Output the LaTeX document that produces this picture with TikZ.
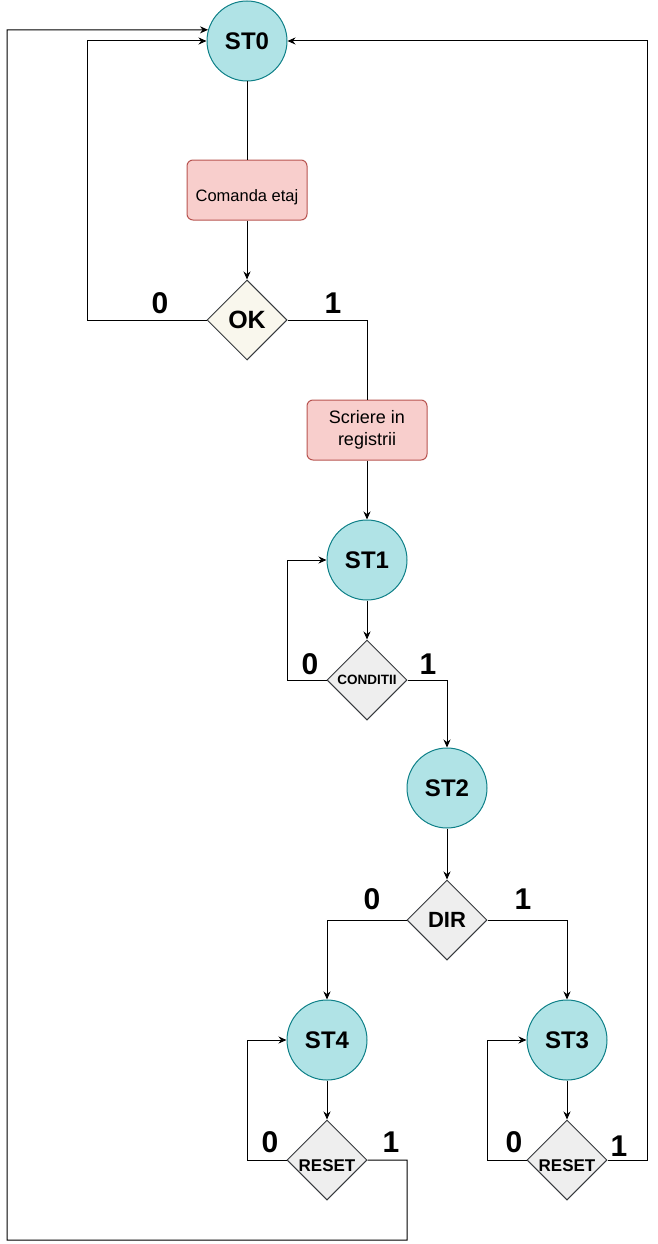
\documentclass[tikz,border=0pt]{standalone}
\usepackage{fontspec}
\setmainfont{Liberation Sans}
\usetikzlibrary{arrows.meta,shapes.geometric}
\definecolor{tealFill}{HTML}{B0E3E6}
\definecolor{tealLine}{HTML}{0E8088}
\definecolor{redFill}{HTML}{F8CECC}
\definecolor{redLine}{HTML}{B85450}
\definecolor{okFill}{HTML}{F9F7ED}
\definecolor{grayFill}{HTML}{EEEEEE}
\definecolor{darkLine}{HTML}{36393D}
\begin{document}
\begin{tikzpicture}[x=1pt,y=-1pt,line width=1pt,>={Stealth[length=8pt,width=7pt]}]
\tikzstyle{st}=[circle,draw=tealLine,fill=tealFill,minimum size=80pt,inner sep=0pt,font=\fontsize{24}{28}\selectfont\bfseries]
\tikzstyle{action}=[rectangle,rounded corners=6pt,draw=redLine,fill=redFill,minimum width=120pt,minimum height=60pt,inner sep=0pt,align=center]
\tikzstyle{decision}=[diamond,draw=darkLine,fill=okFill,minimum width=80pt,minimum height=80pt,inner sep=0pt,font=\bfseries]
\tikzstyle{grayDecision}=[decision,fill=grayFill]
\tikzstyle{bit}=[font=\fontsize{30}{34}\selectfont\bfseries,inner sep=0pt]

\useasboundingbox (0,0) rectangle (658,1244);

%states and boxes.
\node[st] (st0) at (247,41) {ST0};
\node[action,font=\fontsize{16.5}{20}\selectfont,text height=24pt,text depth=2pt] (comanda) at (247,190) {Comanda etaj};
\node[decision,font=\fontsize{25}{28}\selectfont\bfseries] (ok) at (247,320) {OK};
\node[action,font=\fontsize{18}{22}\selectfont] (scriere) at (367,430) {Scriere in\\registrii};
\node[st] (st1) at (367,560) {ST1};
\node[grayDecision,font=\fontsize{13.5}{16}\selectfont\bfseries] (conditii) at (367,680) {CONDITII};
\node[st] (st2) at (447,788) {ST2};
\node[grayDecision,font=\fontsize{22}{26}\selectfont\bfseries] (dir) at (447,920) {DIR};
\node[st] (st4) at (327,1040) {ST4};
\node[st] (st3) at (567,1040) {ST3};
\node[grayDecision,font=\fontsize{17}{20}\selectfont\bfseries,text height=22pt,text depth=0pt] (reset4) at (327,1160) {RESET};
\node[grayDecision,font=\fontsize{17}{20}\selectfont\bfseries,text height=22pt,text depth=0pt] (reset3) at (567,1160) {RESET};

%get labels.
\node[bit] (okZero) at (160,303) {0};
\node[bit] (okOne) at (333,303) {1};
\node[bit] (condZero) at (310,664) {0};
\node[bit] (condOne) at (428,664) {1};
\node[bit] (dirZero) at (372,899) {0};
\node[bit] (dirOne) at (523,899) {1};
\node[bit] (resetZeroA) at (270,1142) {0};
\node[bit] (resetOneA) at (391,1142) {1};
\node[bit] (resetZeroB) at (514,1142) {0};
\node[bit] (resetOneB) at (619,1146) {1};

\draw (st0) -- (comanda);
\draw[->] (comanda) -- (ok);
\draw[->] (ok.west) -- (87,320) |- (st0.west);
\draw (ok.east) -| (scriere.north);
\draw[->] (scriere) -- (st1);

\draw[->] (st1) -- (conditii);
\draw[->] (conditii.west) -- (287,680) |- (st1.west);
\draw[->] (conditii.east) -| (st2.north);

\draw[->] (st2) -- (dir);
\draw[->] (dir.west) -| (st4.north);
\draw[->] (dir.east) -| (st3.north);

\draw[->] (st4) -- (reset4);
\draw[->] (reset4.west) -- (247,1160) |- (st4.west);
\draw[->] (reset4.east) -| (407,1240) -| (7,30) -- (st0.164);

\draw[->] (st3) -- (reset3);
\draw[->] (reset3.west) -- (487,1160) |- (st3.west);
\draw[->] (reset3.east) -| (647,41) -- (st0.east);

\end{tikzpicture}
\end{document}
